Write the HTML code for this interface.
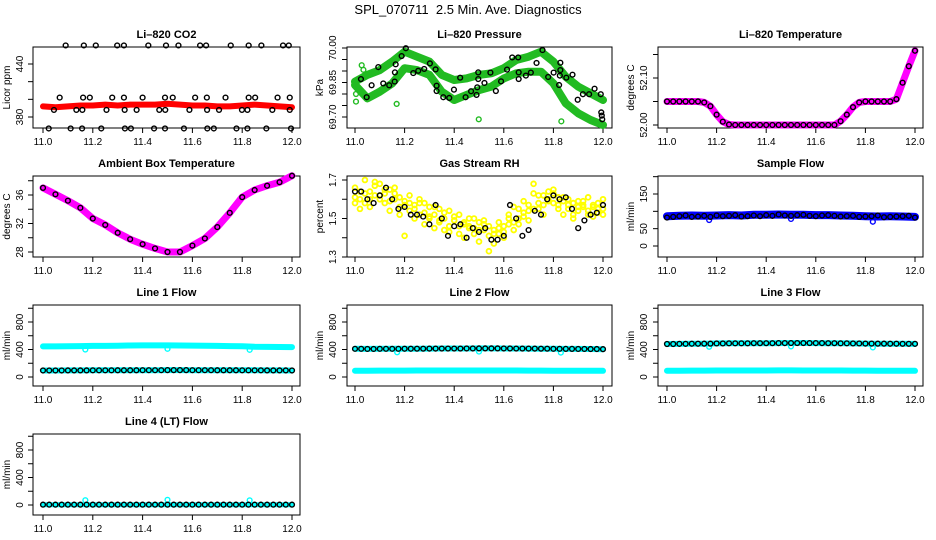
<!DOCTYPE html>
<html><head><meta charset="utf-8"><title>SPL_070711 Diagnostics</title>
<style>
html,body{margin:0;padding:0;background:#fff;}
svg{display:block;font-family:"Liberation Sans",sans-serif;}
</style></head>
<body>
<svg id="chart" width="936" height="540" viewBox="0 0 936 540" xmlns="http://www.w3.org/2000/svg">
<rect width="936" height="540" fill="#fff"/>
<text x="468" y="14" text-anchor="middle" font-size="13">SPL_070711&#160; 2.5 Min. Ave. Diagnostics</text>
</svg>
<script>
// ---------- data ----------
const xTicks = [11.0, 11.2, 11.4, 11.6, 11.8, 12.0];
const xTickLabels = ["11.0", "11.2", "11.4", "11.6", "11.8", "12.0"];
const grid05 = [11.0,11.05,11.1,11.15,11.2,11.25,11.3,11.35,11.4,11.45,11.5,11.55,11.6,11.65,11.7,11.75,11.8,11.85,11.9,11.95,12.0];
const grid025 = [11.0,11.025,11.05,11.075,11.1,11.125,11.15,11.175,11.2,11.225,11.25,11.275,11.3,11.325,11.35,11.375,11.4,11.425,11.45,11.475,11.5,11.525,11.55,11.575,11.6,11.625,11.65,11.675,11.7,11.725,11.75,11.775,11.8,11.825,11.85,11.875,11.9,11.925,11.95,11.975,12.0];
const grid02 = [11.0,11.02,11.04,11.06,11.08,11.1,11.12,11.14,11.16,11.18,11.2,11.22,11.24,11.26,11.28,11.3,11.32,11.34,11.36,11.38,11.4,11.42,11.44,11.46,11.48,11.5,11.52,11.54,11.56,11.58,11.6,11.62,11.64,11.66,11.68,11.7,11.72,11.74,11.76,11.78,11.8,11.82,11.84,11.86,11.88,11.9,11.92,11.94,11.96,11.98,12.0];

// CO2
const co2Red = [392,391,392,393,393,394,393,394,394,394,395,394,393,393,392,392,393,394,393,392,391];
const co2BlackX = [11.091,11.164,11.212,11.298,11.325,11.423,11.494,11.544,11.631,11.655,11.754,11.826,11.877,11.964,11.987,
 11.023,11.111,11.157,11.234,11.329,11.353,11.446,11.490,11.566,11.660,11.686,11.777,11.821,11.897,11.996,
 11.067,11.161,11.188,11.278,11.325,11.400,11.490,11.521,11.611,11.658,11.733,11.826,11.852,11.942,11.991,
 11.044,11.134,11.158,11.255,11.328,11.376,11.467,11.491,11.588,11.659,11.707,11.799,11.821,11.921,11.991];
const co2BlackY = [461,461,461,461,461,461,461,461,461,461,461,461,461,461,461,
 367,367,367,367,367,367,367,367,367,367,367,367,367,367,367,
 402,402,402,402,402,402,402,402,402,402,402,402,402,402,402,
 388,388,388,388,388,388,388,388,388,388,388,388,388,388,388];

// Pressure
const presUpper = [69.854,69.883,69.904,69.941,69.984,69.962,69.941,69.883,69.861,69.868,69.883,69.890,69.912,69.948,69.962,69.984,69.941,69.875,69.832,69.803,69.774];
const presLower = [69.839,69.781,69.810,69.846,69.912,69.904,69.883,69.810,69.774,69.796,69.817,69.832,69.868,69.890,69.897,69.897,69.846,69.759,69.716,69.687,69.665];
const presGreenX = [11.004,11.004,11.027,11.034,11.04,11.168,11.499,11.832];
const presGreenY = [69.767,69.800,69.925,69.905,69.880,69.757,69.690,69.681];
const presBlackX = [11.024,11.047,11.067,11.094,11.114,11.138,11.160,11.161,11.164,11.188,11.205,11.235,11.255,11.279,11.302,11.325,11.329,11.329,11.356,11.380,11.399,11.424,11.446,11.468,11.490,11.493,11.497,11.497,11.522,11.546,11.568,11.589,11.613,11.634,11.658,11.660,11.660,11.689,11.709,11.732,11.756,11.779,11.801,11.823,11.826,11.828,11.828,11.852,11.877,11.898,11.919,11.944,11.966,11.991,11.993,11.995,11.997];
const presBlackY = [69.865,69.786,69.838,69.917,69.846,69.838,69.854,69.894,69.929,69.965,69.999,69.891,69.901,69.909,69.933,69.907,69.836,69.813,69.786,69.783,69.819,69.871,69.786,69.812,69.796,69.829,69.865,69.894,69.848,69.893,69.813,69.855,69.906,69.959,69.959,69.894,69.865,69.880,69.893,69.935,69.991,69.874,69.893,69.839,69.880,69.904,69.936,69.871,69.884,69.775,69.799,69.799,69.823,69.799,69.720,69.706,69.690];

// Li-820 temperature (grid025)
const licorTemp = [52.050,52.050,52.050,52.050,52.050,52.050,52.048,52.040,52.022,52.007,52.001,52.000,52.000,52.000,52.000,52.000,52.000,52.000,52.000,52.000,52.000,52.000,52.000,52.000,52.000,52.000,52.000,52.000,52.008,52.022,52.038,52.048,52.050,52.050,52.050,52.050,52.050,52.055,52.090,52.125,52.158];

// Ambient box temperature (grid05)
const ambTemp = [37.0,36.1,35.2,34.2,32.7,31.8,30.7,29.8,29.1,28.5,28.0,28.0,28.9,29.9,31.5,33.5,35.7,36.7,37.3,37.8,38.7];

// Gas stream RH (grid02)
const rhYellow1 = [1.66,1.60,1.58,1.64,1.62,1.68,1.63,1.59,1.66,1.61,1.57,1.62,1.55,1.58,1.53,1.56,1.52,1.55,1.50,1.54,1.49,1.52,1.47,1.50,1.45,1.48,1.44,1.46,1.42,1.45,1.40,1.47,1.44,1.50,1.53,1.49,1.55,1.58,1.52,1.60,1.63,1.57,1.61,1.55,1.58,1.54,1.57,1.52,1.56,1.53,1.55];
const rhYellow2 = [1.58,1.64,1.70,1.56,1.67,1.60,1.65,1.54,1.60,1.56,1.41,1.58,1.50,1.60,1.47,1.51,1.45,1.49,1.44,1.43,1.51,1.46,1.40,1.45,1.42,1.38,1.49,1.33,1.37,1.42,1.46,1.52,1.56,1.47,1.59,1.54,1.68,1.62,1.57,1.64,1.58,1.61,1.52,1.60,1.50,1.59,1.56,1.61,1.51,1.58,1.60];
const rhYellow3 = [1.61,1.55,1.63,1.60,1.69,1.62,1.58,1.65,1.63,1.52,1.59,1.54,1.57,1.52,1.58,1.50,1.56,1.48,1.53,1.46,1.49,1.42,1.48,1.46,1.50,1.44,1.47,1.41,1.44,1.48,1.43,1.50,1.48,1.55,1.51,1.57,1.63,1.55,1.62,1.59,1.65,1.55,1.59,1.57,1.52,1.56,1.59,1.54,1.57,1.55,1.52];
const rhBlack = [1.64,1.64,1.60,1.58,1.62,1.66,1.60,1.55,1.56,1.52,1.52,1.51,1.47,1.57,1.50,1.41,1.46,1.47,1.40,1.45,1.43,1.45,1.39,1.39,1.41,1.57,1.50,1.41,1.44,1.54,1.52,1.60,1.62,1.60,1.61,1.55,1.45,1.49,1.52,1.53,1.57];

// Sample flow
const sampleBlue = [86,87,88,87,88,89,88,90,90,91,90,90,89,89,88,87,86,85,86,85,84];
const sampleBlack = [82,84,86,88,84,85,87,84,88,86,87,89,85,86,88,86,89,87,91,88,87,89,90,87,86,88,89,87,85,86,87,84,85,86,88,83,84,85,86,87,82];
const sampleOutX = [11.17,11.5,11.83];
const sampleOutY = [75,78,70];

// Line flows (grid05)
const line1Cyan = [445,445,447,450,452,453,455,458,460,460,460,458,457,455,452,450,448,440,438,436,435];
const line1Low = [95,95,96,96,97,97,98,98,99,99,100,100,99,99,98,98,97,97,96,96,95];
const line2Up = [410,408,410,410,411,412,413,414,414,415,416,416,415,414,413,412,410,409,408,407,405];
const line2Low = [92,92,93,93,93,94,94,94,95,95,95,94,94,94,93,93,92,92,91,91,90];
const line3Up = [480,482,484,485,488,490,490,492,492,493,494,494,493,492,490,488,486,485,484,483,482];
const line3Low = [92,92,93,93,94,94,95,95,95,96,96,95,95,94,94,93,93,92,92,91,90];
const line4Val = [5,5,5,5,5,5,5,5,5,5,5,5,5,5,5,5,5,5,5,5,5];
const flowOutX = [11.17,11.5,11.83];
const line1Out = [400,410,395];
const line2Out = [360,370,355];
const line3Out = [440,445,430];
const line4Out = [70,75,68];

// ---------- drawing ----------
const NS = "http://www.w3.org/2000/svg";
const svg = document.getElementById("chart");
function mk(tag, attrs, parent) {
  const e = document.createElementNS(NS, tag);
  for (const k in attrs) e.setAttribute(k, attrs[k]);
  (parent || svg).appendChild(e);
  return e;
}
const cols = [{bl:33,br:300,x0:43,x1:292,lab:10,tl:23},{bl:347,br:612,x0:355,x1:603,lab:323,tl:336},{bl:658,br:923,x0:667,x1:915,lab:634,tl:647}];
const rows = [{t:47,b:128},{t:176,b:257},{t:305,b:386},{t:434,b:515}];

function panel(name, title, ci, ri, yv0, yp0, yv1, yp1, yTicks, yLabels, ylab) {
  const c = cols[ci], r = rows[ri];
  const g = mk("g", {});
  
  
  const sx = v => c.x0 + (v - 11) * (c.x1 - c.x0);
  const sy = v => yp0 + (v - yv0) * (yp1 - yp0) / (yv1 - yv0);
  const box = mk("rect", {x:c.bl, y:r.t, width:c.br-c.bl, height:r.b-r.t, fill:"none", stroke:"#000", "stroke-width":1}, g);
  
  
  const tt = mk("text", {x:(c.bl+c.br)/2, y:r.t-9, "text-anchor":"middle", "font-size":11, "font-weight":"bold"}, g);
  tt.textContent = title;
  
  
  const ax = mk("g", {}, g);
  
  
  xTicks.forEach((v, i) => {
    mk("line", {x1:sx(v), x2:sx(v), y1:r.b, y2:r.b+5, stroke:"#000"}, ax);
    const t = mk("text", {x:sx(v), y:r.b+17, "text-anchor":"middle", "font-size":10}, ax);
    t.textContent = xTickLabels[i];
    
    
  });
  const ay = mk("g", {}, g);
  
  
  yTicks.forEach((v, i) => {
    mk("line", {x1:c.bl-5, x2:c.bl, y1:sy(v), y2:sy(v), stroke:"#000"}, ay);
    if (yLabels[i]) {
      const t = mk("text", {x:c.tl, y:sy(v), "text-anchor":"middle", "font-size":10, transform:`rotate(-90 ${c.tl} ${sy(v)})`}, ay);
      t.textContent = yLabels[i];
      
      
    }
  });
  const ym = (r.t + r.b) / 2;
  const yl = mk("text", {x:c.lab, y:ym, "text-anchor":"middle", "font-size":10, transform:`rotate(-90 ${c.lab} ${ym})`}, g);
  yl.textContent = ylab;
  
  
  const marks = mk("g", {}, g);
  
  
  return {sx, sy, g: marks};
}
function band(p, xs, ys, color, w, name) {
  const pts = xs.map((x, i) => p.sx(x).toFixed(1) + "," + p.sy(ys[i]).toFixed(1)).join(" ");
  const e = mk("polyline", {points:pts, fill:"none", stroke:color, "stroke-width":w, "stroke-linejoin":"round", "stroke-linecap":"round"}, p.g);
  
  
}
function pts(p, xs, ys, color, name, sw) {
  const gg = mk("g", {}, p.g);
  
  
  xs.forEach((x, i) => {
    mk("circle", {cx:p.sx(x), cy:p.sy(ys[i]), r:2.4, fill:"none", stroke:color, "stroke-width":sw || 1.4}, gg);
  });
}
const flowTicks = [0,200,400,600,800,1000];
const flowLabels = ["0","","400","","800",""];

// 1 CO2
let p = panel("co2-panel","Li\u2013820 CO2",0,0,380,117,440,64,[380,400,420,440],["380","","","440"],"Licor ppm");
band(p, grid05, co2Red, "#ff0000", 6, "co2-red-series");
pts(p, co2BlackX, co2BlackY, "#000", "co2-black-points");

// 2 Pressure
p = panel("pressure-panel","Li\u2013820 Pressure",1,0,70.0,48,69.7,117,[69.7,69.75,69.8,69.85,69.9,69.95,70.0],["69.70","","","69.85","","","70.00"],"kPa");
band(p, grid05, presUpper, "#22bb22", 8, "pressure-green-upper");
band(p, grid05, presLower, "#22bb22", 8, "pressure-green-lower");
pts(p, presGreenX, presGreenY, "#22bb22", "pressure-green-outliers");
pts(p, presBlackX, presBlackY, "#000", "pressure-black-points");

// 3 Li-820 temp
p = panel("licor-temp-panel","Li\u2013820 Temperature",2,0,52.0,125,52.1,78,[52.0,52.05,52.1,52.15],["52.00","","52.10",""],"degrees C");
band(p, grid025, licorTemp, "#ff00ff", 7, "licor-temp-magenta");
pts(p, grid025, licorTemp, "#000", "licor-temp-black-points");

// 4 Ambient
p = panel("ambient-temp-panel","Ambient Box Temperature",0,1,28,252,36,195,[28,30,32,34,36,38],["28","","32","","36",""],"degrees C");
band(p, grid05, ambTemp, "#ff00ff", 7, "ambient-magenta");
pts(p, grid05, ambTemp, "#000", "ambient-black-points");

// 5 RH
p = panel("rh-panel","Gas Stream RH",1,1,1.3,257,1.7,180,[1.3,1.4,1.5,1.6,1.7],["1.3","","1.5","","1.7"],"percent");
pts(p, grid02, rhYellow1, "#ffff00", "rh-yellow-1", 1.8);
pts(p, grid02, rhYellow2, "#ffff00", "rh-yellow-2", 1.8);
pts(p, grid02, rhYellow3, "#ffff00", "rh-yellow-3", 1.8);
pts(p, grid025, rhBlack, "#000", "rh-black-points");

// 6 Sample flow
p = panel("sample-flow-panel","Sample Flow",2,1,0,246,150,194,[0,50,100,150,200],["0","50","","150",""],"ml/min");
band(p, grid05, sampleBlue, "#0000ff", 8, "sample-blue-band");
pts(p, sampleOutX, sampleOutY, "#0000ff", "sample-blue-outliers");
pts(p, grid025, sampleBlack, "#000", "sample-black-points");

// 7 Line 1
p = panel("line1-panel","Line 1 Flow",0,2,0,377,800,322,flowTicks,flowLabels,"ml/min");
band(p, grid05, line1Cyan, "#00ffff", 6, "line1-cyan-upper");
band(p, grid05, line1Low, "#00ffff", 6, "line1-cyan-lower");
pts(p, flowOutX, line1Out, "#00ffff", "line1-cyan-outliers");
pts(p, grid025, grid025.map((x,i)=>line1Low[Math.floor(i/2)]), "#000", "line1-black-points");

// 8 Line 2
p = panel("line2-panel","Line 2 Flow",1,2,0,377,800,322,flowTicks,flowLabels,"ml/min");
band(p, grid05, line2Up, "#00ffff", 6, "line2-cyan-upper");
band(p, grid05, line2Low, "#00ffff", 6, "line2-cyan-lower");
pts(p, flowOutX, line2Out, "#00ffff", "line2-cyan-outliers");
pts(p, grid025, grid025.map((x,i)=>line2Up[Math.floor(i/2)]), "#000", "line2-black-points");

// 9 Line 3
p = panel("line3-panel","Line 3 Flow",2,2,0,377,800,322,flowTicks,flowLabels,"ml/min");
band(p, grid05, line3Up, "#00ffff", 6, "line3-cyan-upper");
band(p, grid05, line3Low, "#00ffff", 6, "line3-cyan-lower");
pts(p, flowOutX, line3Out, "#00ffff", "line3-cyan-outliers");
pts(p, grid025, grid025.map((x,i)=>line3Up[Math.floor(i/2)]), "#000", "line3-black-points");

// 10 Line 4
p = panel("line4-panel","Line 4 (LT) Flow",0,3,0,505,800,450,flowTicks,flowLabels,"ml/min");
band(p, grid05, line4Val, "#00ffff", 5, "line4-cyan");
pts(p, flowOutX, line4Out, "#00ffff", "line4-cyan-outliers");
pts(p, grid025, grid025.map((x,i)=>line4Val[Math.floor(i/2)]), "#000", "line4-black-points");
</script>
</body></html>
